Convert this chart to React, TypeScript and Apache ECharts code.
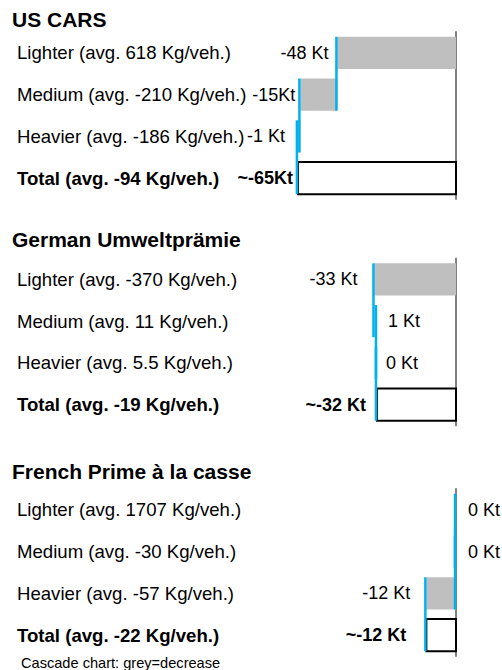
import React, { useEffect, useRef } from 'react';
import * as echarts from 'echarts';

// ---------- data ----------
const PANEL_TITLES = ['US CARS', 'German Umweltprämie', 'French Prime à la casse'];
const FOOTNOTE = 'Cascade chart: grey=decrease';

const US_CATEGORIES = ['Lighter (avg. 618 Kg/veh.)', 'Medium (avg. -210 Kg/veh.)', 'Heavier (avg. -186 Kg/veh.)', 'Total (avg. -94 Kg/veh.)'];
const US_CHANGES = [-48, -15, -1];
const US_LABELS = ['-48 Kt', '-15Kt', '-1 Kt', '~-65Kt'];

const DE_CATEGORIES = ['Lighter (avg. -370 Kg/veh.)', 'Medium (avg. 11 Kg/veh.)', 'Heavier (avg. 5.5 Kg/veh.)', 'Total (avg. -19 Kg/veh.)'];
const DE_CHANGES = [-33, 1, 0];
const DE_LABELS = ['-33 Kt', '1 Kt', '0 Kt', '~-32 Kt'];

const FR_CATEGORIES = ['Lighter (avg. 1707 Kg/veh.)', 'Medium (avg. -30 Kg/veh.)', 'Heavier (avg. -57 Kg/veh.)', 'Total (avg. -22 Kg/veh.)'];
const FR_CHANGES = [0, 0, -12];
const FR_LABELS = ['0 Kt', '0 Kt', '-12 Kt', '~-12 Kt'];

const X_MIN = -100;
const X_MAX = 0;

// ---------- layout / style ----------
const FONT = '"Liberation Sans", Arial, sans-serif';
const GRID_LEFT = 209;
const GRID_RIGHT = 46;
const GRID_HEIGHT = 167;
const PANEL_TOPS = [32, 258.5, 489];
const TITLE_CENTERS = [19, 239, 471.5];
const LABEL_GAPS = [
  [9, 5, 13, 5],
  [17, 11, 9, 11],
  [12, 12, 16, 20],
];
const CAT_LABEL_X = 17;
const GREY = '#BFBFBF';
const BLUE = '#00B0F0';
const AXIS_GREY = '#7F7F7F';

const PANELS = [
  { cats: US_CATEGORIES, changes: US_CHANGES, labels: US_LABELS },
  { cats: DE_CATEGORIES, changes: DE_CHANGES, labels: DE_LABELS },
  { cats: FR_CATEGORIES, changes: FR_CHANGES, labels: FR_LABELS },
];

function buildRows(changes: number[]) {
  const rows: number[][] = [];
  let cum = 0;
  changes.forEach((c, i) => {
    const start = cum;
    const end = cum + c;
    rows.push([i, start, end, 0]);
    cum = end;
  });
  rows.push([changes.length, 0, cum, 1]);
  return rows;
}

export default function App() {
  const ref = useRef<HTMLDivElement>(null);

  useEffect(() => {
    if (!ref.current) return;
    const chart = echarts.init(ref.current, undefined, { renderer: 'svg' });

    const grids: any[] = [];
    const xAxes: any[] = [];
    const yAxes: any[] = [];
    const series: any[] = [];

    PANELS.forEach((p, k) => {
      grids.push({ left: GRID_LEFT, right: GRID_RIGHT, top: PANEL_TOPS[k], height: GRID_HEIGHT });
      xAxes.push({ type: 'value', gridIndex: k, min: X_MIN, max: X_MAX, show: false });
      yAxes.push({
        type: 'category',
        gridIndex: k,
        data: p.cats,
        inverse: true,
        position: 'left',
        axisLine: { show: false, onZero: false },
        axisTick: { show: false },
        splitLine: { show: false },
        axisLabel: {
          align: 'left',
          margin: GRID_LEFT - CAT_LABEL_X,
          color: '#000',
          fontSize: 18.6,
          fontFamily: FONT,
          formatter: (v: string, i: number) => (i === p.cats.length - 1 ? `{b|${v}}` : v),
          rich: { b: { fontWeight: 'bold', fontSize: 18.6, fontFamily: FONT, color: '#000' } },
        },
      });
      yAxes.push({
        type: 'category',
        gridIndex: k,
        data: p.cats,
        inverse: true,
        position: 'right',
        axisLine: { show: true, onZero: false, lineStyle: { color: AXIS_GREY, width: 2 } },
        axisTick: { show: false },
        axisLabel: { show: false },
        splitLine: { show: false },
      });
      const labels = p.labels;
      const gaps = LABEL_GAPS[k];
      series.push({
        type: 'custom',
        xAxisIndex: k,
        yAxisIndex: 2 * k,
        encode: { x: [1, 2], y: 0 },
        data: buildRows(p.changes),
        renderItem: (params: any, api: any) => {
          const idx = api.value(0);
          const start = api.value(1);
          const end = api.value(2);
          const isTotal = api.value(3) === 1;
          const band = api.size([0, 1])[1];
          const h = band * 0.77;
          const p0 = api.coord([start, idx]);
          const p1 = api.coord([end, idx]);
          const cy = p0[1];
          const xl = Math.min(p0[0], p1[0]);
          const xr = Math.max(p0[0], p1[0]);
          const children: any[] = [];
          if (isTotal) {
            children.push({
              type: 'rect',
              z2: 5,
              shape: { x: xl, y: cy - h / 2, width: xr - xl, height: h },
              style: { fill: '#fff', stroke: '#000', lineWidth: 2 },
            });
          } else if (end < start) {
            children.push({
              type: 'rect',
              z2: 1,
              shape: { x: xl, y: cy - h / 2, width: xr - xl, height: h },
              style: { fill: GREY },
            });
          }
          if (!isTotal) {
            children.push({
              type: 'line',
              z2: 10,
              shape: { x1: p1[0] - 1, y1: cy - h / 2, x2: p1[0] - 1, y2: cy + band + h / 2 },
              style: { stroke: BLUE, lineWidth: 2.5 },
            });
          }
          const neg = isTotal || end < start;
          const gap = gaps[params.dataIndex];
          children.push({
            type: 'text',
            z2: 20,
            style: {
              x: neg ? xl - gap : p1[0] + gap,
              y: cy,
              text: labels[params.dataIndex],
              fill: '#000',
              fontSize: 18,
              fontFamily: FONT,
              fontWeight: isTotal ? 'bold' : 'normal',
              align: neg ? 'right' : 'left',
              verticalAlign: 'middle',
            },
          });
          return { type: 'group', children };
        },
      });
    });

    const titles: any[] = PANEL_TITLES.map((t, k) => ({
      text: t,
      left: 12,
      top: TITLE_CENTERS[k] - 10.5,
      padding: 0,
      textStyle: { fontSize: 21, fontWeight: 'bold', color: '#000', fontFamily: FONT, lineHeight: 21 },
    }));
    titles.push({
      text: FOOTNOTE,
      left: 21,
      top: 655,
      padding: 0,
      textStyle: { fontSize: 14.6, fontWeight: 'normal', color: '#000', fontFamily: FONT, lineHeight: 15 },
    });

    chart.setOption({
      animation: false,
      backgroundColor: '#fff',
      title: titles,
      grid: grids,
      xAxis: xAxes,
      yAxis: yAxes,
      series,
    });

    return () => chart.dispose();
  }, []);

  return (
    <div
      ref={ref}
      style={{ position: 'fixed', left: 0, top: 0, width: 502, height: 670, background: '#fff' }}
    />
  );
}
